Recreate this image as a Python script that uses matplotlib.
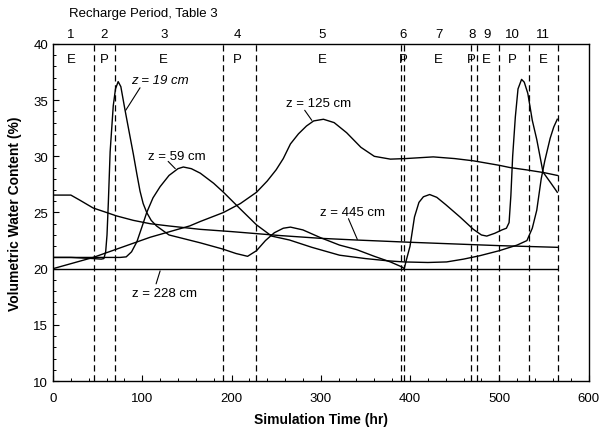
import matplotlib
matplotlib.use("Agg")
import matplotlib.pyplot as plt
from matplotlib.ticker import MultipleLocator

plt.rcParams['font.family'] = ['Liberation Sans', 'DejaVu Sans']

# Water content profiles at five depths (time in hr, content in %)
t_z19 = [0, 20, 45, 54, 57, 59, 60.5, 62, 64, 67.5, 70, 73, 76, 80.5, 85, 90, 94,
         97.5, 101, 105, 110, 116, 130, 150, 165, 190, 205, 218, 228, 238, 248,
         258, 266, 280, 300, 321, 340, 360, 378, 391, 393.5, 396, 400, 405, 410,
         415, 422, 430, 440, 456, 471, 480, 486, 495, 503, 508, 511, 513, 515,
         518, 521, 525, 528, 532, 537, 542, 549, 558, 565]
v_z19 = [21.0, 21.0, 20.9, 20.85, 20.9, 21.5, 23.0, 25.9, 30.4, 34.5, 36.0, 36.65,
         36.2, 34.2, 32.3, 30.2, 28.4, 26.9, 25.8, 25.0, 24.3, 23.8, 23.0, 22.6,
         22.3, 21.75, 21.35, 21.1, 21.6, 22.5, 23.2, 23.6, 23.7, 23.45, 22.75,
         22.1, 21.7, 21.1, 20.6, 20.15, 20.0, 20.8, 22.0, 24.6, 25.9, 26.4, 26.6,
         26.35, 25.7, 24.6, 23.5, 23.0, 22.9, 23.15, 23.45, 23.6, 24.1, 26.5, 30.0,
         33.5, 36.0, 36.85, 36.6, 35.6, 33.2, 31.5, 28.6, 27.6, 26.8]

t_z59 = [0, 40, 75, 82, 88, 94, 100, 105, 112, 120, 130, 140, 146, 155, 165, 180,
         191, 210, 228, 245, 265, 290, 321, 350, 375, 393, 420, 441, 460, 478, 500,
         520, 531, 537, 542, 547, 551, 557, 561, 565]
v_z59 = [21.0, 21.0, 21.0, 21.05, 21.5, 22.4, 23.8, 25.0, 26.3, 27.3, 28.3, 28.9,
         29.05, 28.9, 28.5, 27.6, 26.8, 25.3, 23.9, 22.9, 22.55, 21.9, 21.2, 20.9,
         20.7, 20.6, 20.55, 20.6, 20.85, 21.15, 21.6, 22.1, 22.5, 23.6, 25.2, 28.0,
         29.6, 31.6, 32.6, 33.3]

t_z125 = [0, 45, 109, 153, 165, 191, 210, 228, 240, 250, 258, 266, 275, 284, 292,
          303, 315, 329, 345, 360, 378, 395, 426, 450, 471, 500, 512, 530, 550, 565]
v_z125 = [20.0, 21.0, 22.8, 23.8, 24.2, 25.0, 25.8, 26.8, 27.8, 28.8, 29.8, 31.1,
          32.0, 32.7, 33.15, 33.3, 33.0, 32.1, 30.8, 30.0, 29.75, 29.8, 29.95, 29.8,
          29.6, 29.2, 29.0, 28.8, 28.55, 28.3]

t_z228 = [0, 565]
v_z228 = [20.0, 20.0]

t_z445 = [0, 20, 30, 45, 60, 71, 90, 109, 130, 165, 200, 254, 300, 340, 400, 450,
          500, 565]
v_z445 = [26.55, 26.55, 26.1, 25.4, 25.0, 24.7, 24.3, 24.0, 23.8, 23.5, 23.3,
          22.95, 22.7, 22.55, 22.35, 22.2, 22.05, 21.9]

# Recharge-period boundaries and their labels
period_bounds = [46, 70, 190, 227, 389.5, 393.5, 468.5, 475, 499.5, 533, 566]
period_numbers = ['1', '2', '3', '4', '5', '6', '7', '8', '9', '10', '11']
period_centers = [20, 57, 124, 207, 302, 392, 432, 469, 486, 515, 549]
period_types = ['E', 'P', 'E', 'P', 'E', 'P', 'E', 'P', 'E', 'P', 'E']

x_ticks = [0, 100, 200, 300, 400, 500, 600]
y_ticks = [10, 15, 20, 25, 30, 35, 40]

fig = plt.figure(figsize=(5.99, 4.35), dpi=100)
ax = fig.add_axes([0.0885, 0.1218, 0.894, 0.7748])

line_kw = dict(color='black', lw=1.0)
ax.plot(t_z19, v_z19, **line_kw)
ax.plot(t_z59, v_z59, **line_kw)
ax.plot(t_z125, v_z125, **line_kw)
ax.plot(t_z228, v_z228, **line_kw)
ax.plot(t_z445, v_z445, **line_kw)

for b in period_bounds:
    ax.axvline(b, color='black', lw=0.9, linestyle=(0, (5, 3)))

for c, n, k in zip(period_centers, period_numbers, period_types):
    ax.text(c, 40.9, n, ha='center', va='center', fontsize=9.5, clip_on=False)
    ax.text(c, 38.7, k, ha='center', va='center', fontsize=9.5)

ax.text(0.03, 1.092, 'Recharge Period, Table 3', transform=ax.transAxes,
        ha='left', va='center', fontsize=9.5)

# Depth labels with leader lines
lead = dict(arrowstyle='-', color='black', lw=0.8, shrinkA=0, shrinkB=0)
ax.text(88, 36.75, 'z = 19 cm', fontsize=9.5, style='italic', va='center')
ax.annotate('', xy=(81.5, 34.1), xytext=(97.5, 36.1), arrowprops=lead)
ax.text(106, 30.05, 'z = 59 cm', fontsize=9.5, va='center')
ax.annotate('', xy=(137, 28.9), xytext=(129, 29.55), arrowprops=lead)
ax.text(261, 34.75, 'z = 125 cm', fontsize=9.5, va='center')
ax.annotate('', xy=(290, 33.2), xytext=(282, 34.1), arrowprops=lead)
ax.text(299, 25.0, 'z = 445 cm', fontsize=9.5, va='center')
ax.annotate('', xy=(341, 22.6), xytext=(331, 24.45), arrowprops=lead)
ax.text(88, 17.8, 'z = 228 cm', fontsize=9.5, va='center')
ax.annotate('', xy=(120, 19.8), xytext=(115.5, 18.65), arrowprops=lead)

ax.set_xlim(0, 600)
ax.set_ylim(10, 40)
ax.set_xticks(x_ticks)
ax.set_yticks(y_ticks)
ax.xaxis.set_minor_locator(MultipleLocator(20))
ax.yaxis.set_minor_locator(MultipleLocator(1))
ax.tick_params(which='both', direction='in', top=False, right=False, labelsize=9.5)
ax.tick_params(which='major', length=4, width=0.8)
ax.tick_params(which='minor', length=2.5, width=0.7)
ax.tick_params(axis='x', pad=8)
for s in ax.spines.values():
    s.set_linewidth(1.0)

ax.set_xlabel('Simulation Time (hr)', fontsize=10, fontweight='bold', labelpad=6)
ax.set_ylabel('Volumetric Water Content (%)', fontsize=10, fontweight='bold', labelpad=8)

fig.savefig('out.png', dpi=100)
